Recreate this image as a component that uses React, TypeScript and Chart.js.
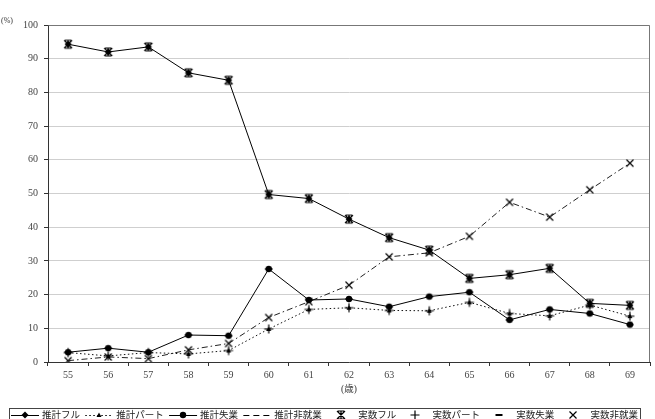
import React, { useEffect, useRef } from 'react';
import { Chart, registerables } from 'chart.js';

Chart.register(...registerables);

const ages = ['55', '56', '57', '58', '59', '60', '61', '62', '63', '64', '65', '66', '67', '68', '69'];

const estFull = [94.3, 92.0, 93.5, 85.8, 83.6, 49.7, 48.5, 42.4, 36.9, 33.2, 24.8, 25.9, 27.8, 17.4, 16.8];
const estPart = [2.8, 1.8, 2.8, 2.4, 3.4, 9.8, 15.6, 16.1, 15.3, 15.2, 17.7, 14.4, 13.7, 16.9, 13.6];
const estUnemp = [2.9, 4.1, 2.9, 8.0, 7.8, 27.6, 18.4, 18.7, 16.4, 19.4, 20.7, 12.5, 15.6, 14.4, 11.1];
const estNonEmp = [0.4, 1.5, 1.0, 3.6, 5.5, 13.2, 17.9, 22.8, 31.2, 32.4, 37.3, 47.4, 43.0, 51.1, 59.0];

const actFull = [94.3, 92.0, 93.5, 85.8, 83.6, 49.7, 48.5, 42.4, 36.9, 33.2, 24.8, 25.9, 27.8, 17.4, 16.8];
const actPart = [2.8, 1.8, 2.8, 2.4, 3.4, 9.8, 15.6, 16.1, 15.3, 15.2, 17.7, 14.4, 13.7, 16.9, 13.6];
const actUnemp = [2.9, 4.1, 2.9, 8.0, 7.8, 27.6, 18.4, 18.7, 16.4, 19.4, 20.7, 12.5, 15.6, 14.4, 11.1];
const actNonEmp = [0.4, 1.5, 1.0, 3.6, 5.5, 13.2, 17.9, 22.8, 31.2, 32.4, 37.3, 47.4, 43.0, 51.1, 59.0];

const seriesLabels = ['推計フル', '推計パート', '推計失業', '推計非就業', '実数フル', '実数パート', '実数失業', '実数非就業'];

const yUnit = '(%)';
const xUnit = '(歳)';

function makeMarker(kind: string): HTMLCanvasElement {
  const s = 12;
  const c = document.createElement('canvas');
  c.width = s;
  c.height = s;
  const ctx = c.getContext('2d')!;
  const m = s / 2;
  ctx.strokeStyle = '#000';
  ctx.fillStyle = '#000';
  ctx.lineWidth = 1.2;
  ctx.beginPath();
  if (kind === 'diamond') {
    ctx.moveTo(m, m - 3.5);
    ctx.lineTo(m + 3.5, m);
    ctx.lineTo(m, m + 3.5);
    ctx.lineTo(m - 3.5, m);
    ctx.closePath();
    ctx.fill();
  } else if (kind === 'circle') {
    ctx.arc(m, m, 3.2, 0, Math.PI * 2);
    ctx.fill();
  } else if (kind === 'triangle') {
    ctx.moveTo(m, m - 2.5);
    ctx.lineTo(m + 2.5, m + 2);
    ctx.lineTo(m - 2.5, m + 2);
    ctx.closePath();
    ctx.fill();
  } else if (kind === 'star') {
    ctx.moveTo(m - 4, m - 4);
    ctx.lineTo(m + 4, m + 4);
    ctx.moveTo(m + 4, m - 4);
    ctx.lineTo(m - 4, m + 4);
    ctx.moveTo(m, m - 4.5);
    ctx.lineTo(m, m + 4.5);
    ctx.moveTo(m - 3, m - 4);
    ctx.lineTo(m + 3, m - 4);
    ctx.moveTo(m - 3, m + 4);
    ctx.lineTo(m + 3, m + 4);
    ctx.stroke();
  } else if (kind === 'plus') {
    ctx.moveTo(m - 4.5, m);
    ctx.lineTo(m + 4.5, m);
    ctx.moveTo(m, m - 4.5);
    ctx.lineTo(m, m + 4.5);
    ctx.stroke();
  } else if (kind === 'dash') {
    ctx.lineWidth = 2;
    ctx.moveTo(m - 3.5, m);
    ctx.lineTo(m + 3.5, m);
    ctx.stroke();
  } else if (kind === 'x') {
    ctx.moveTo(m - 3.5, m - 3.5);
    ctx.lineTo(m + 3.5, m + 3.5);
    ctx.moveTo(m + 3.5, m - 3.5);
    ctx.lineTo(m - 3.5, m + 3.5);
    ctx.stroke();
  }
  return c;
}

export default function App() {
  const ref = useRef<HTMLCanvasElement | null>(null);

  useEffect(() => {
    if (!ref.current) return;
    const mk = {
      diamond: makeMarker('diamond'),
      circle: makeMarker('circle'),
      triangle: makeMarker('triangle'),
      star: makeMarker('star'),
      plus: makeMarker('plus'),
      dash: makeMarker('dash'),
      x: makeMarker('x'),
    };

    const legendSpecs = [
      { line: true, dash: [] as number[], marker: mk.diamond },
      { line: true, dash: [1.5, 2.5], marker: mk.triangle },
      { line: true, dash: [] as number[], marker: mk.circle },
      { line: true, dash: [6, 4], marker: null },
      { line: false, dash: [] as number[], marker: mk.star },
      { line: false, dash: [] as number[], marker: mk.plus },
      { line: false, dash: [] as number[], marker: mk.dash },
      { line: false, dash: [] as number[], marker: mk.x },
    ];

    const extras = {
      id: 'extras',
      afterDraw(chart: any) {
        const ctx = chart.ctx;
        const a = chart.chartArea;
        ctx.save();
        // plot border
        ctx.strokeStyle = '#777';
        ctx.lineWidth = 1;
        ctx.beginPath();
        ctx.moveTo(Math.round(a.left) + 0.5, Math.round(a.top) + 0.5);
        ctx.lineTo(Math.round(a.right) - 0.5, Math.round(a.top) + 0.5);
        ctx.lineTo(Math.round(a.right) - 0.5, Math.round(a.bottom));
        ctx.stroke();
        // unit labels
        ctx.fillStyle = '#333';
        ctx.font = '8px "Liberation Serif", "Noto Sans CJK JP"';
        ctx.textBaseline = 'middle';
        ctx.textAlign = 'left';
        ctx.fillText(yUnit, 1, 21);
        ctx.font = '9.5px "Liberation Serif", "Noto Sans CJK JP"';
        ctx.textAlign = 'center';
        ctx.fillText(xUnit, (a.left + a.right) / 2, 389);

        // legend
        const boxL = 9.5, boxT = 408.5, boxR = 640.5, boxB = 430;
        ctx.strokeStyle = '#444';
        ctx.strokeRect(boxL, boxT, boxR - boxL, boxB - boxT);
        ctx.font = '9.5px "Noto Sans CJK JP"';
        ctx.textAlign = 'left';
        ctx.textBaseline = 'middle';
        const sampleW = 28, gapST = 3;
        const widths = seriesLabels.map((t) => ctx.measureText(t).width);
        const total = widths.reduce((s, w) => s + w, 0) + seriesLabels.length * (sampleW + gapST);
        const startX = 11;
        const endX = 638;
        const gap = (endX - startX - total) / (seriesLabels.length - 1);
        const cy = 414.5;
        let x = startX;
        seriesLabels.forEach((lab, i) => {
          const sp = legendSpecs[i];
          if (sp.line) {
            ctx.save();
            ctx.strokeStyle = '#000';
            ctx.lineWidth = 1;
            ctx.setLineDash(sp.dash);
            ctx.beginPath();
            ctx.moveTo(x, Math.round(cy) + 0.5);
            ctx.lineTo(x + sampleW, Math.round(cy) + 0.5);
            ctx.stroke();
            ctx.restore();
          }
          if (sp.marker) {
            const c = sp.marker as HTMLCanvasElement;
            ctx.drawImage(c, Math.round(x + sampleW / 2 - c.width / 2), Math.round(cy - c.height / 2));
          }
          ctx.fillStyle = '#222';
          ctx.fillText(lab, x + sampleW + gapST, cy);
          x += sampleW + gapST + widths[i] + gap;
        });
        ctx.restore();
      },
    };

    const chart = new Chart(ref.current, {
      type: 'line',
      data: {
        labels: ages,
        datasets: [
          { label: seriesLabels[0], data: estFull, borderColor: '#000', borderWidth: 1, pointStyle: mk.diamond as any, pointRadius: 4 },
          { label: seriesLabels[1], data: estPart, borderColor: '#111', borderWidth: 1, borderDash: [1.5, 2.5], pointStyle: mk.triangle as any, pointRadius: 4 },
          { label: seriesLabels[2], data: estUnemp, borderColor: '#000', borderWidth: 1, pointStyle: mk.circle as any, pointRadius: 4 },
          { label: seriesLabels[3], data: estNonEmp, borderColor: '#222', borderWidth: 1, borderDash: [6, 3, 1.5, 3], pointRadius: 0 },
          { label: seriesLabels[4], data: actFull, showLine: false, pointStyle: mk.star as any, pointRadius: 4 },
          { label: seriesLabels[5], data: actPart, showLine: false, pointStyle: mk.plus as any, pointRadius: 4 },
          { label: seriesLabels[6], data: actUnemp, showLine: false, pointStyle: mk.dash as any, pointRadius: 4 },
          { label: seriesLabels[7], data: actNonEmp, showLine: false, pointStyle: mk.x as any, pointRadius: 4 },
        ],
      },
      options: {
        animation: false,
        responsive: true,
        maintainAspectRatio: false,
        layout: { padding: { left: 0, right: 3, top: 25, bottom: 0 } },
        plugins: {
          legend: { display: false },
          tooltip: { enabled: false },
        },
        elements: { line: { tension: 0, fill: false } },
        scales: {
          x: {
            type: 'category',
            offset: true,
            grid: { offset: true, drawOnChartArea: false, tickLength: 4, color: '#333' },
            border: { color: '#333', width: 1 },
            ticks: {
              color: '#444',
              padding: 3,
              maxRotation: 0,
              font: { family: '"Liberation Serif", serif', size: 10 },
            },
            afterFit(scale: any) {
              scale.height = 57;
            },
          },
          y: {
            min: 0,
            max: 100,
            ticks: {
              stepSize: 10,
              color: '#444',
              padding: 6,
              font: { family: '"Liberation Serif", serif', size: 10 },
            },
            grid: { color: '#cfcfcf', tickColor: '#333', tickLength: 4 },
            border: { color: '#333', width: 1 },
            afterFit(scale: any) {
              scale.width = 48;
            },
          },
        },
      },
      plugins: [extras],
    });
    return () => chart.destroy();
  }, []);

  return (
    <div style={{ position: 'fixed', left: 0, top: 0, width: 655, height: 419, background: '#fff' }}>
      <canvas ref={ref} />
    </div>
  );
}
